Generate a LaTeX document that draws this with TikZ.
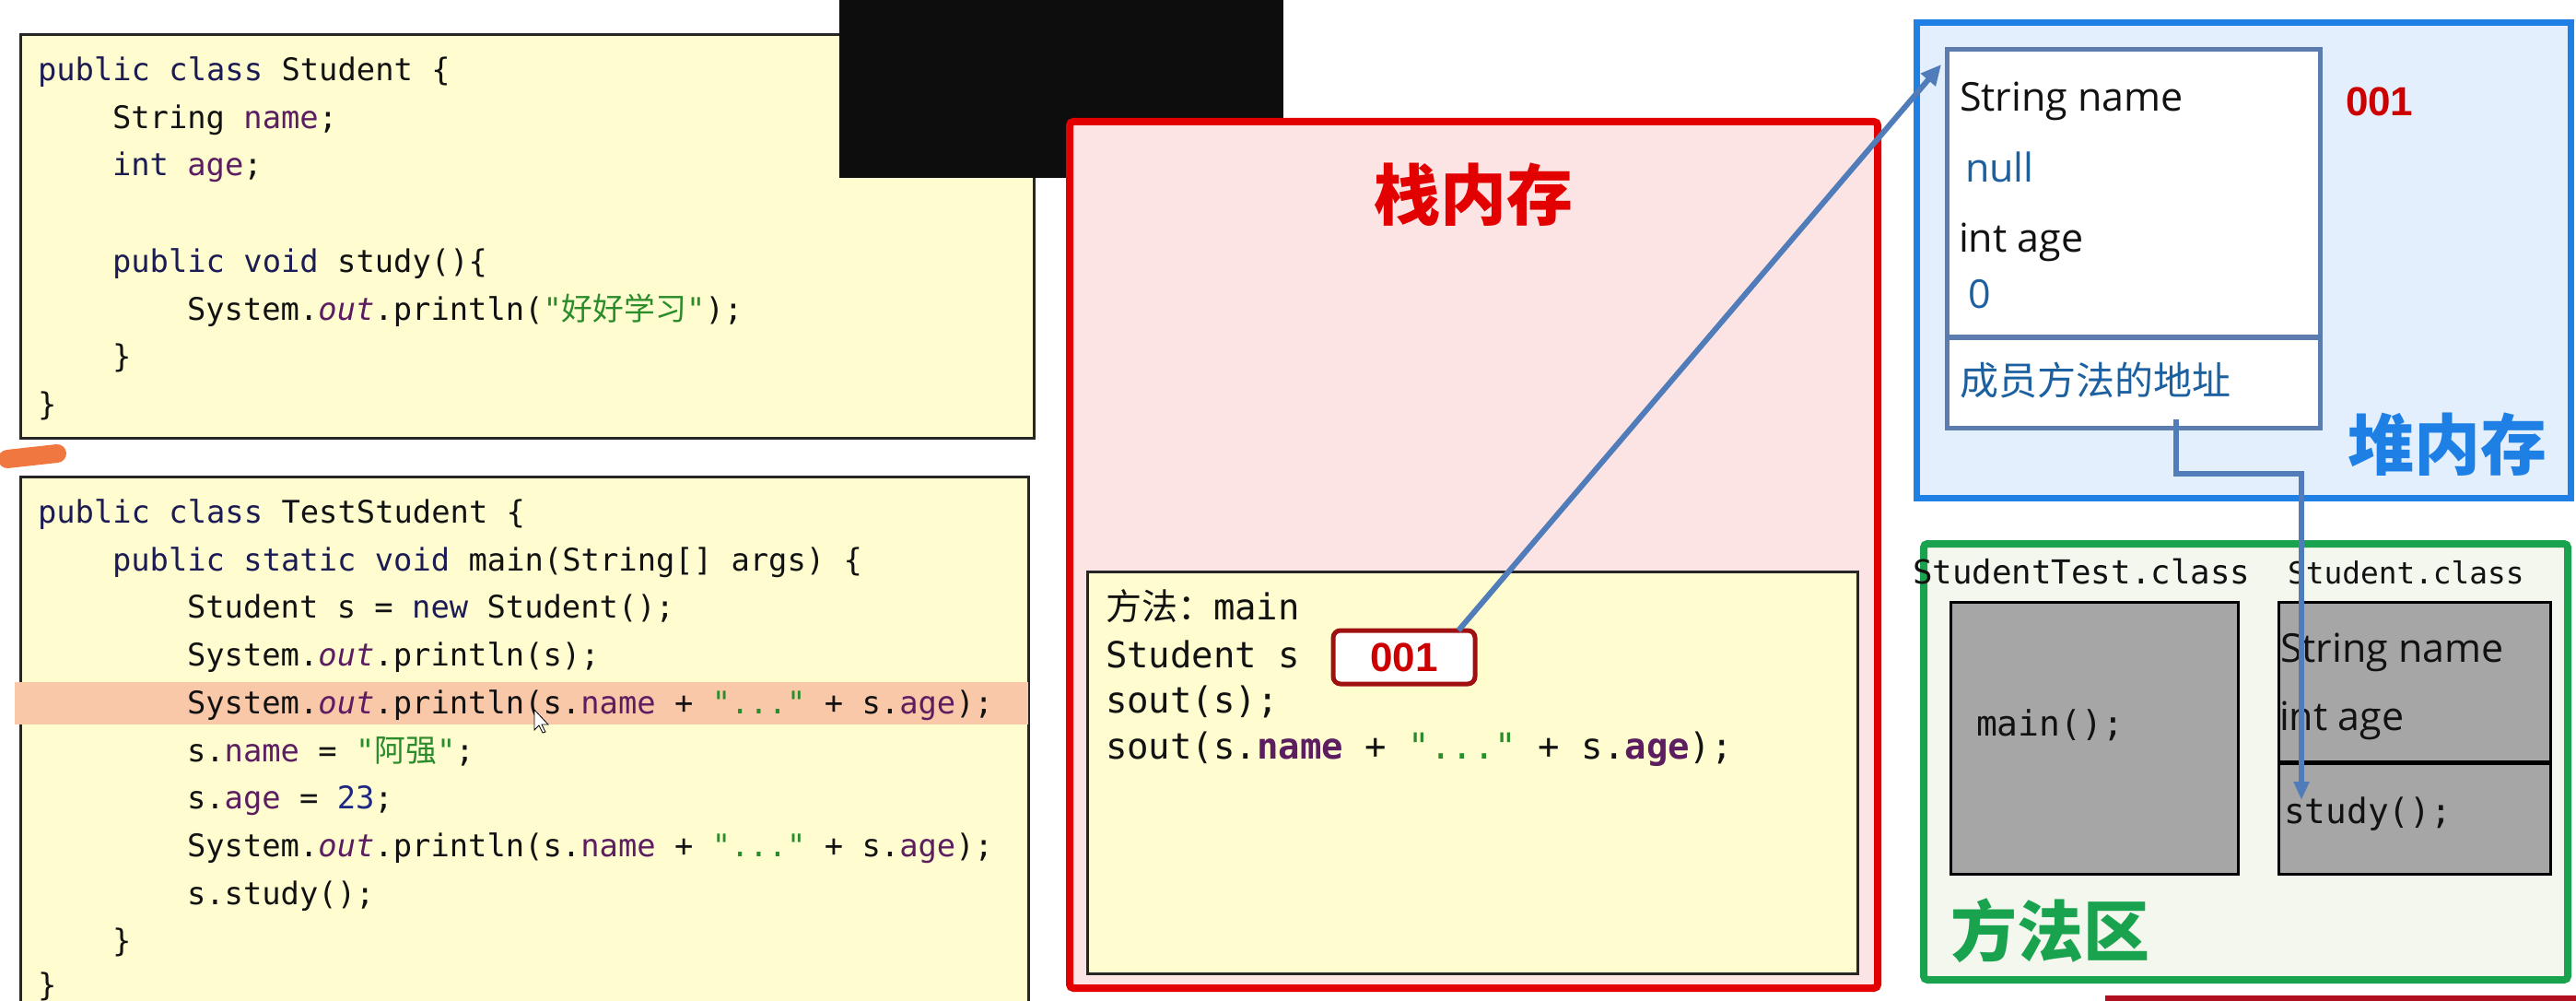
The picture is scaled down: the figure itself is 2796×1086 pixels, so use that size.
\documentclass[tikz,border=0pt]{standalone}
\usepackage{fontspec}
\setmainfont{Open Sans}
\setmonofont{DejaVu Sans Mono}
\newfontfamily\cjk{Noto Sans CJK SC}
\newfontfamily\digitfont{Liberation Sans}
\usetikzlibrary{arrows.meta,fit}

\definecolor{codebg}{RGB}{255,253,208}
\definecolor{kwcol}{RGB}{28,28,84}
\definecolor{fldcol}{RGB}{92,30,96}
\definecolor{strcol}{RGB}{42,140,42}
\definecolor{numcol}{RGB}{30,40,130}
\definecolor{txtcol}{RGB}{18,18,18}
\definecolor{hlcol}{RGB}{248,200,168}
\definecolor{stackred}{RGB}{226,0,0}
\definecolor{stackfill}{RGB}{253,228,228}
\definecolor{heapblue}{RGB}{30,128,228}
\definecolor{heapfill}{RGB}{227,239,252}
\definecolor{objedge}{RGB}{92,124,176}
\definecolor{arrowblue}{RGB}{80,125,185}
\definecolor{valblue}{RGB}{28,96,160}
\definecolor{areagreen}{RGB}{26,163,78}
\definecolor{areafill}{RGB}{243,247,238}
\definecolor{grayfill}{RGB}{166,166,166}
\definecolor{addrred}{RGB}{204,0,0}
\definecolor{addredge}{RGB}{160,16,16}
\definecolor{markorange}{RGB}{240,120,64}
\definecolor{wmred}{RGB}{176,16,32}

\newcommand\jkw[1]{\textcolor{kwcol}{#1}}
\newcommand\jfl[1]{\textcolor{fldcol}{#1}}
\newcommand\jstr[1]{\textcolor{strcol}{#1}}
\newcommand\jnum[1]{\textcolor{numcol}{#1}}
\newcommand\jout[1]{\textcolor{fldcol}{\itshape #1}}

\begin{document}
\begin{tikzpicture}[x=0.5pt, y=-0.5pt,
  every node/.style={inner sep=0pt, outer sep=0pt},
  codebox/.style={draw=black!85, line width=1.5pt, fill=codebg},
  codeline/.style={anchor=base west, text=txtcol, font=\fontsize{16.9}{20}\selectfont\ttfamily},
  framecode/.style={anchor=base west, text=txtcol, font=\fontsize{19.5}{23}\selectfont\ttfamily},
  sanslbl/.style={anchor=base west, text=txtcol, font=\fontsize{21.5}{25}\selectfont},
  bigtitle/.style={anchor=base west, font=\fontsize{36}{40}\selectfont\cjk\bfseries},
  graybox/.style={draw=black, line width=1.5pt, fill=grayfill},
  conn/.style={draw=arrowblue, line width=3pt, -{Triangle[length=11pt,width=10pt]}},
]
\useasboundingbox (0,0) rectangle (2796,1086);
\clip (0,0) rectangle (2796,1086);
\fill[white] (0,0) rectangle (2796,1086);

% ---------- left code boxes ----------
\node[codebox, fit={(22,38) (1122,475)}] (clsStudent) {};
\node[codebox, fit={(22,517) (1116,1120)}] (clsTest) {};
\fill[hlcol] (16,740) rectangle (1116,786);
\draw[markorange, line width=10pt, line cap=round] (8,498) -- (62,492);

\node[codeline] (a1) at (41,88) {\jkw{public class} Student \{};
\node[codeline] (a2) at (122,140) {String \jfl{name};};
\node[codeline] (a3) at (122,191) {\jkw{int} \jfl{age};};
\node[codeline] (a4) at (122,295) {\jkw{public void} study()\{};
\node[codeline] (a5) at (203,347) {System.\jout{out}.println(\jstr{"{\cjk 好好学习}"});};
\node[codeline] (a6) at (122,398) {\}};
\node[codeline] (a7) at (41,450) {\}};

\node[codeline] (b1) at (41,567) {\jkw{public class} TestStudent \{};
\node[codeline] (b2) at (122,619) {\jkw{public static void} main(String[] args) \{};
\node[codeline] (b3) at (203,670) {Student s = \jkw{new} Student();};
\node[codeline] (b4) at (203,722) {System.\jout{out}.println(s);};
\node[codeline] (b5) at (203,774) {System.\jout{out}.println(s.\jfl{name} + \jstr{"..."} + s.\jfl{age});};
\node[codeline] (b6) at (203,826) {s.\jfl{name} = \jstr{"{\cjk 阿强}"};};
\node[codeline] (b7) at (203,877) {s.\jfl{age} = \jnum{23};};
\node[codeline] (b8) at (203,929) {System.\jout{out}.println(s.\jfl{name} + \jstr{"..."} + s.\jfl{age});};
\node[codeline] (b9) at (203,981) {s.study();};
\node[codeline] (b10) at (122,1032) {\}};
\node[codeline] (b11) at (41,1080) {\}};

% mouse cursor
\filldraw[fill=white, draw=black, line width=0.4pt]
  (580,770) -- (580,792) -- (585,787) -- (589,795) -- (592,794) -- (588,786) -- (595,786) -- cycle;

% black cover
\fill[black!95] (911,0) rectangle (1393,193);

% ---------- stack ----------
\node[draw=stackred, line width=4pt, fill=stackfill, rounded corners=2pt,
      fit={(1161,132) (2038,1072)}] (stack) {};
\node[bigtitle, text=stackred, anchor=base] (stackT) at (1599,238) {栈内存};
\node[draw=black!85, line width=1.5pt, fill=codebg, fit={(1180,620) (2016,1056)}] (frame) {};
\node[framecode] (f1) at (1200,672) {{\cjk 方法：}main};
\node[framecode] (f2) at (1200,724) {Student s};
\node[framecode] (f3) at (1200,773) {sout(s);};
\node[framecode] (f4) at (1200,823) {sout(s.\textbf{\jfl{name}} + \jstr{"..."} + s.\textbf{\jfl{age}});};
\node[draw=addredge, line width=2.5pt, fill=white, rounded corners=4pt,
      minimum width=77pt, minimum height=29pt,
      text=addrred, font=\fontsize{22}{26}\selectfont\digitfont\bfseries] (addrS) at (1524,713) {001};

% ---------- heap ----------
\node[draw=heapblue, line width=3.5pt, fill=heapfill, fit={(2080,25) (2790,540)}] (heap) {};
\node[draw=objedge, line width=2.5pt, fill=white, fit={(2113,54) (2518,464)}] (obj) {};
\draw[objedge, line width=3pt] (obj.west |- 0,366) -- (obj.east |- 0,366);
\node[sanslbl] (h1) at (2127,121) {String name};
\node[sanslbl, text=valblue] (h2) at (2133,198) {null};
\node[sanslbl] (h3) at (2126,273) {int age};
\node[sanslbl, text=valblue] (h4) at (2136,334) {0};
\node[anchor=base west, text=valblue, font=\fontsize{21}{25}\selectfont\cjk] (h5) at (2127,428) {成员方法的地址};
\node[anchor=base west, text=addrred, font=\fontsize{22}{26}\selectfont\digitfont\bfseries] (addrH) at (2546,126) {001};
\node[bigtitle, text=heapblue] (heapT) at (2548,509) {堆内存};

% ---------- method area ----------
\node[draw=areagreen, line width=4pt, fill=areafill, rounded corners=2pt,
      fit={(2088,590) (2787,1063)}] (area) {};
\node[anchor=base west, text=txtcol, font=\fontsize{17.9}{21}\selectfont\ttfamily] (c1) at (2076,633) {StudentTest.class};
\node[anchor=base west, text=txtcol, font=\fontsize{16.4}{20}\selectfont\ttfamily] (c2) at (2483,633) {Student.class};
\node[graybox, fit={(2117,653) (2429,948)}] (g1) {};
\node[graybox, fit={(2473,653) (2768,948)}] (g2) {};
\draw[black, line width=2.5pt] (g2.west |- 0,827) -- (g2.east |- 0,827);
\node[anchor=base west, text=txtcol, font=\fontsize{19}{22}\selectfont\ttfamily] (g1t) at (2145,798) {main();};
\node[sanslbl] (g2a) at (2475,718) {String name};
\node[sanslbl] (g2b) at (2474,792) {int age};
\node[anchor=base west, text=txtcol, font=\fontsize{18.9}{22}\selectfont\ttfamily] (g2c) at (2479,893) {study();};
\node[bigtitle, text=areagreen] (areaT) at (2117,1037) {方法区};

% watermark bar
\fill[wmred] (2285,1080) rectangle (2796,1086);

% ---------- connectors ----------
\draw[conn] ([xshift=-9pt]addrS.north east) -- ([xshift=-3pt,yshift=-8pt]obj.north west);
\coordinate (mstart) at ([xshift=23.25pt,yshift=4.5pt]obj.south);
\coordinate (mtip) at ([xshift=9.5pt,yshift=12.5pt]g2c.base west);
\draw[conn, -{Triangle[length=10pt,width=8pt]}, line width=2.6pt] (mstart) -- ++(0,59) -| (mtip);
\end{tikzpicture}
\end{document}
